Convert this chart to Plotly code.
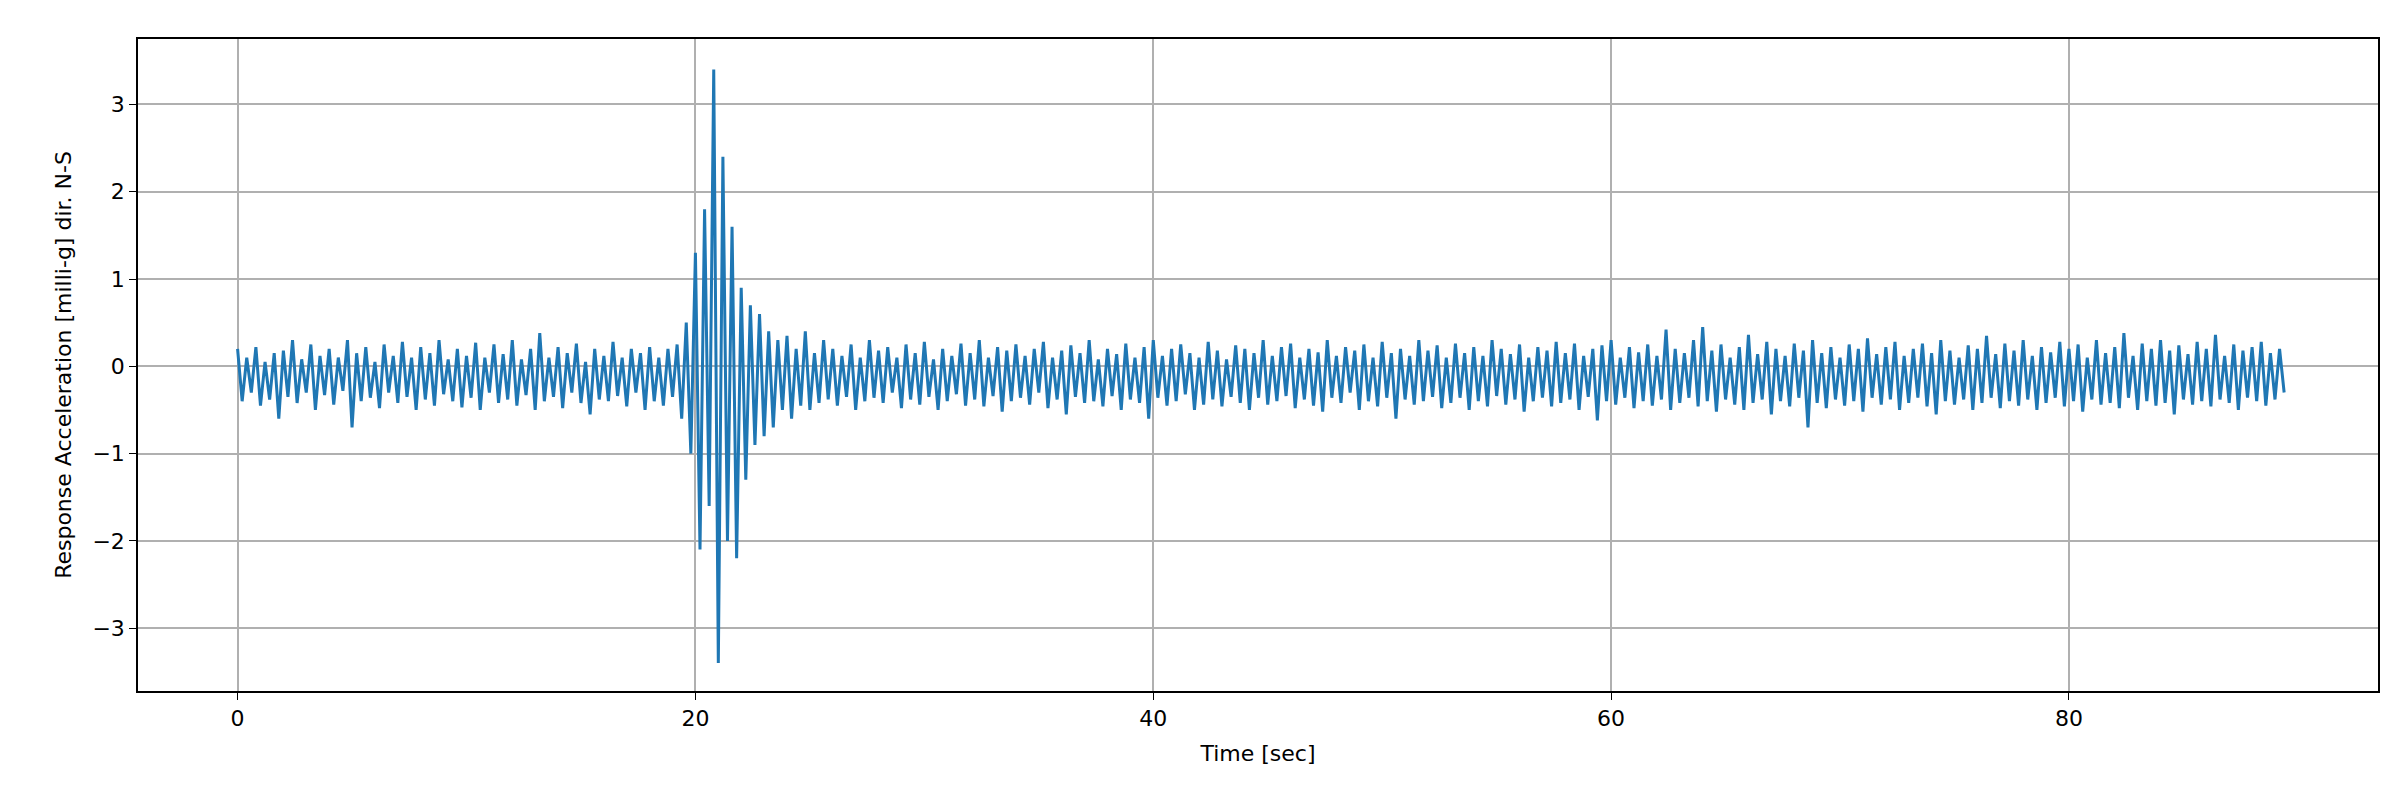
import plotly.graph_objects as go

dt = 0.2
acc = [
    0.2, -0.4, 0.1, -0.3, 0.22, -0.45, 0.05, -0.38, 0.15, -0.6,
    0.18, -0.35, 0.3, -0.42, 0.08, -0.3, 0.25, -0.5, 0.12, -0.33,
    0.2, -0.44, 0.1, -0.28, 0.3, -0.7, 0.15, -0.4, 0.22, -0.36,
    0.05, -0.48, 0.25, -0.3, 0.12, -0.42, 0.28, -0.35, 0.1, -0.5,
    0.22, -0.38, 0.15, -0.45, 0.3, -0.32, 0.08, -0.4, 0.2, -0.47,
    0.12, -0.36, 0.27, -0.5, 0.1, -0.3, 0.25, -0.42, 0.14, -0.38,
    0.3, -0.45, 0.08, -0.33, 0.2, -0.5, 0.38, -0.4, 0.1, -0.35,
    0.22, -0.48, 0.15, -0.3, 0.26, -0.42, 0.05, -0.55, 0.2, -0.38,
    0.12, -0.4, 0.28, -0.34, 0.1, -0.46, 0.2, -0.3, 0.15, -0.5,
    0.22, -0.4, 0.1, -0.45, 0.2, -0.35, 0.25, -0.6, 0.5, -1.0,
    1.3, -2.1, 1.8, -1.6, 3.4, -3.4, 2.4, -2.0, 1.6, -2.2,
    0.9, -1.3, 0.7, -0.9, 0.6, -0.8, 0.4, -0.7, 0.3, -0.5,
    0.35, -0.6, 0.2, -0.45, 0.4, -0.5, 0.15, -0.42, 0.3, -0.38,
    0.2, -0.45, 0.12, -0.35, 0.25, -0.5, 0.1, -0.4, 0.3, -0.36,
    0.18, -0.42, 0.22, -0.3, 0.1, -0.48, 0.25, -0.38, 0.15, -0.44,
    0.28, -0.35, 0.08, -0.5, 0.2, -0.4, 0.12, -0.32, 0.26, -0.45,
    0.15, -0.38, 0.3, -0.46, 0.1, -0.34, 0.22, -0.52, 0.18, -0.4,
    0.25, -0.36, 0.12, -0.44, 0.2, -0.3, 0.28, -0.48, 0.1, -0.38,
    0.18, -0.55, 0.24, -0.35, 0.15, -0.42, 0.3, -0.4, 0.08, -0.46,
    0.2, -0.34, 0.14, -0.5, 0.26, -0.38, 0.1, -0.42, 0.22, -0.6,
    0.3, -0.36, 0.12, -0.45, 0.2, -0.4, 0.25, -0.32, 0.15, -0.5,
    0.1, -0.44, 0.28, -0.38, 0.18, -0.46, 0.08, -0.35, 0.24, -0.42,
    0.2, -0.5, 0.15, -0.36, 0.3, -0.44, 0.12, -0.4, 0.22, -0.34,
    0.26, -0.48, 0.1, -0.38, 0.2, -0.45, 0.16, -0.52, 0.3, -0.36,
    0.12, -0.42, 0.22, -0.3, 0.18, -0.5, 0.25, -0.4, 0.1, -0.46,
    0.28, -0.36, 0.15, -0.6, 0.2, -0.38, 0.12, -0.44, 0.3, -0.4,
    0.18, -0.35, 0.24, -0.48, 0.1, -0.42, 0.26, -0.36, 0.15, -0.5,
    0.22, -0.4, 0.12, -0.46, 0.3, -0.34, 0.2, -0.44, 0.14, -0.38,
    0.25, -0.52, 0.1, -0.4, 0.22, -0.36, 0.18, -0.46, 0.28, -0.42,
    0.15, -0.38, 0.26, -0.5, 0.12, -0.35, 0.2, -0.62, 0.24, -0.4,
    0.3, -0.44, 0.1, -0.36, 0.22, -0.48, 0.16, -0.4, 0.25, -0.45,
    0.12, -0.38, 0.42, -0.5, 0.2, -0.42, 0.15, -0.36, 0.3, -0.46,
    0.45, -0.4, 0.18, -0.52, 0.25, -0.38, 0.1, -0.44, 0.22, -0.5,
    0.36, -0.42, 0.14, -0.38, 0.28, -0.55, 0.2, -0.4, 0.12, -0.46,
    0.26, -0.36, 0.18, -0.7, 0.3, -0.42, 0.15, -0.48, 0.22, -0.38,
    0.1, -0.45, 0.25, -0.4, 0.2, -0.52, 0.32, -0.36, 0.14, -0.44,
    0.22, -0.38, 0.28, -0.5, 0.12, -0.42, 0.2, -0.36, 0.26, -0.46,
    0.15, -0.55, 0.3, -0.4, 0.18, -0.44, 0.1, -0.38, 0.24, -0.5,
    0.2, -0.42, 0.35, -0.36, 0.14, -0.48, 0.26, -0.4, 0.18, -0.45,
    0.3, -0.38, 0.12, -0.5, 0.22, -0.42, 0.16, -0.36, 0.28, -0.46,
    0.2, -0.4, 0.25, -0.52, 0.1, -0.38, 0.3, -0.44, 0.15, -0.42,
    0.22, -0.48, 0.38, -0.36, 0.12, -0.5, 0.26, -0.4, 0.2, -0.45,
    0.3, -0.42, 0.18, -0.55, 0.24, -0.38, 0.14, -0.44, 0.28, -0.4,
    0.2, -0.46, 0.36, -0.38, 0.12, -0.42, 0.25, -0.5, 0.18, -0.36,
    0.22, -0.4, 0.28, -0.45, 0.15, -0.38, 0.2, -0.3,
]
time = [round(i * dt, 2) for i in range(len(acc))]

fig = go.Figure()
fig.add_trace(go.Scatter(x=time, y=acc, mode="lines",
                         line=dict(color="#1f77b4", width=3), showlegend=False))

ax = dict(showline=True, linecolor="black", linewidth=1.5, mirror=True,
          showgrid=True, gridcolor="#b0b0b0", gridwidth=1.5, zeroline=False,
          ticks="outside", ticklen=7, tickcolor="black",
          tickfont=dict(size=22, color="black"))
fig.update_layout(
    width=2400, height=800,
    paper_bgcolor="white", plot_bgcolor="white",
    font=dict(family="DejaVu Sans", color="black", size=22),
    margin=dict(l=130, r=30, t=31, b=117),
    xaxis=dict(ax, range=[-4.35, 93.5], tickvals=[0, 20, 40, 60, 80],
               title=dict(text="Time [sec]", font=dict(size=22))),
    yaxis=dict(ax, range=[-3.72, 3.75], tickvals=[-3, -2, -1, 0, 1, 2, 3],
               tickformat="d",
               title=dict(text="Response Acceleration [milli-g] dir. N-S",
                          font=dict(size=22))),
)
fig.write_html("out.html")
